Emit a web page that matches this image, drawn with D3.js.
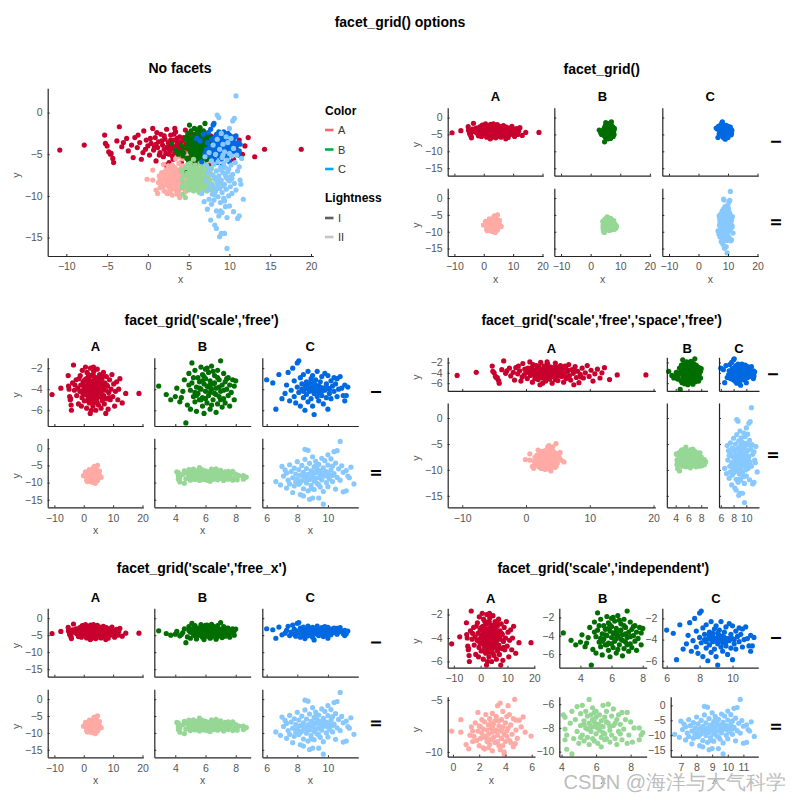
<!DOCTYPE html>
<html><head><meta charset="utf-8">
<script src="https://cdn.jsdelivr.net/npm/d3@7"></script>
<style>body{margin:0;background:#fff} text{font-family:"Liberation Sans",Arial,Helvetica,sans-serif}</style>
</head><body><svg id="c" width="800" height="800"></svg>
<script>
// ---------------- data (x,y) ----------------
const A_I = [[-10.8,-4.5],[-7.8,-3.9],[-5.3,-2.7],[-5.2,-3.7],[-5.0,-4.0],[-4.8,-4.7],[-4.6,-5.0],[-4.3,-5.5],[-4.2,-6.0],[-4.5,-4.9],[-3.5,-1.7],[-3.8,-3.4],[-3.2,-4.1],[-3.0,-3.6],[-2.6,-3.1],[-2.4,-4.6],[-2.0,-3.9],[-1.8,-5.4],[-1.6,-3.0],[-1.3,-4.2],[-1.0,-3.6],[-0.8,-5.6],[-0.6,-4.8],[-0.5,-2.2],[-0.2,-3.3],[0.0,-4.0],[0.2,-5.1],[0.4,-3.7],[0.6,-1.9],[0.7,-4.5],[0.9,-3.0],[1.0,-5.8],[1.2,-4.2],[1.3,-3.5],[1.5,-4.8],[1.6,-2.6],[1.8,-3.9],[1.9,-5.3],[2.0,-4.4],[2.1,-3.2],[2.2,-6.3],[2.3,-2.0],[2.4,-4.1],[2.5,-3.6],[2.6,-5.0],[2.7,-4.6],[2.8,-2.7],[2.9,-3.9],[3.0,-4.3],[3.1,-5.6],[3.2,-3.3],[3.3,-4.8],[3.4,-2.3],[3.5,-4.0],[3.6,-3.7],[3.7,-5.2],[3.8,-4.5],[3.9,-2.9],[4.0,-3.5],[4.1,-6.0],[4.2,-4.2],[4.4,-3.0],[4.5,-4.9],[4.6,-2.1],[4.7,-3.8],[4.9,-4.4],[5.0,-5.5],[5.1,-3.2],[5.3,-4.0],[5.4,-2.6],[5.6,-4.7],[5.7,-3.6],[5.9,-5.8],[6.0,-4.2],[6.2,-3.0],[6.3,-5.1],[6.5,-3.8],[6.7,-2.4],[6.8,-4.6],[7.0,-5.4],[7.2,-3.4],[7.4,-4.1],[7.5,-6.3],[7.7,-2.8],[7.9,-4.9],[8.1,-3.7],[8.3,-5.9],[8.5,-4.3],[8.8,-3.1],[9.0,-5.0],[9.3,-4.0],[9.6,-2.6],[9.9,-4.7],[10.2,-3.5],[10.5,-5.6],[10.8,-4.2],[11.2,-3.3],[11.6,-5.0],[11.9,-4.0],[12.3,-3.0],[13.1,-5.3],[14.3,-4.4],[18.8,-4.4],[0.3,-3.1],[0.8,-4.1],[1.1,-2.4],[1.4,-5.1],[1.7,-3.4],[2.0,-2.8],[2.2,-4.9],[2.5,-4.3],[2.8,-3.3],[3.0,-5.2],[3.2,-2.6],[3.4,-4.5],[3.6,-3.1],[3.9,-4.1],[4.1,-4.7],[4.3,-3.4],[4.6,-5.3],[4.8,-2.9],[5.0,-3.9],[5.2,-4.6],[5.5,-3.3],[5.8,-4.4],[6.1,-2.7],[6.4,-4.9],[6.6,-3.5],[1.0,-3.8],[-0.3,-4.4],[-1.2,-2.7],[7.8,-3.6],[8.6,-4.8],[3.3,-1.9],[2.6,-6.0]];
const A_II = [[-0.1,-8.0],[0.6,-6.9],[0.6,-8.1],[1.0,-9.3],[1.2,-9.7],[1.3,-8.4],[1.4,-7.6],[1.5,-9.0],[1.6,-8.5],[1.7,-7.2],[1.8,-8.9],[1.9,-6.2],[1.9,-8.0],[2.0,-7.5],[2.0,-9.4],[2.1,-8.7],[2.2,-6.9],[2.2,-8.2],[2.3,-7.8],[2.3,-9.6],[2.4,-9.7],[2.4,-7.1],[2.5,-8.5],[2.5,-6.4],[2.6,-7.9],[2.6,-9.0],[2.7,-7.4],[2.7,-8.3],[2.8,-6.8],[2.8,-9.3],[2.9,-7.7],[2.9,-8.8],[3.0,-6.3],[3.0,-8.1],[3.0,-9.9],[3.1,-7.3],[3.1,-8.6],[3.2,-7.0],[3.2,-9.1],[3.3,-7.9],[3.3,-6.6],[3.4,-8.4],[3.4,-5.55],[3.5,-7.5],[3.5,-9.4],[3.6,-5.3],[3.6,-8.0],[3.6,-9.8],[3.7,-6.9],[3.7,-8.7],[3.8,-7.6],[3.8,-6.1],[3.9,-10.0],[3.9,-8.3],[4.0,-7.2],[4.0,-9.0],[4.1,-6.6],[4.1,-8.0],[4.2,-5.55],[4.2,-7.7],[4.3,-6.4],[4.3,-8.9],[4.4,-7.4],[4.5,-8.3],[4.6,-6.8],[4.6,-9.5],[4.7,-4.95],[4.75,-9.2],[4.8,-6.95],[4.8,-7.9],[4.9,-8.7],[5.05,-6.95],[5.2,-7.6],[5.35,-6.63],[5.5,-8.1],[5.95,-8.47],[3.9,-10.2],[2.4,-9.7],[1.5,-8.0],[2.1,-7.6],[2.6,-8.8],[3.2,-8.0],[3.5,-7.0],[2.9,-7.2],[3.7,-7.9],[4.1,-8.5],[2.3,-8.6],[3.0,-7.6],[3.4,-9.0],[2.7,-9.6],[4.4,-9.1],[3.8,-9.4]];
const B_I = [[2.9,-3.7],[3.4,-4.5],[3.7,-5.0],[4.0,-4.7],[4.1,-3.9],[4.3,-5.2],[4.5,-4.2],[4.7,-7.2],[4.6,-3.1],[4.8,-5.5],[4.9,-2.5],[5.0,-4.1],[5.0,-5.9],[5.1,-1.5],[5.1,-3.4],[5.2,-4.7],[5.3,-2.2],[5.3,-5.2],[5.4,-3.8],[5.4,-6.1],[5.5,-2.9],[5.5,-4.4],[5.6,-3.3],[5.6,-5.0],[5.7,-1.9],[5.7,-4.0],[5.8,-2.6],[5.8,-4.8],[5.8,-5.6],[5.9,-3.5],[5.9,-6.3],[6.0,-2.1],[6.0,-4.2],[6.0,-3.0],[6.1,-5.3],[6.1,-3.7],[6.2,-4.6],[6.2,-2.4],[6.3,-5.9],[6.3,-3.2],[6.4,-4.0],[6.4,-1.8],[6.5,-5.0],[6.5,-3.5],[6.6,-4.4],[6.6,-2.7],[6.7,-6.2],[6.7,-3.9],[6.8,-5.4],[6.8,-2.2],[6.9,-4.7],[6.9,-3.1],[7.0,-1.3],[7.0,-4.2],[7.1,-5.7],[7.1,-3.6],[7.2,-2.5],[7.2,-4.9],[7.3,-3.3],[7.3,-5.3],[7.4,-4.0],[7.5,-2.9],[7.5,-4.6],[7.6,-3.6],[7.6,-5.6],[7.7,-4.3],[7.8,-3.1],[7.9,-3.7],[8.0,-3.2],[7.9,-5.0],[5.2,-2.9],[5.6,-3.9],[6.0,-4.9],[6.3,-4.3],[6.5,-2.3],[6.9,-3.8],[5.4,-4.6],[5.9,-2.8],[6.6,-3.4],[7.0,-5.0],[6.2,-3.8],[5.8,-3.2],[6.4,-5.5],[7.4,-3.0],[4.4,-4.8],[4.9,-3.6],[5.3,-4.3],[6.1,-2.0],[6.7,-4.5],[7.2,-4.1],[5.7,-5.0],[6.8,-2.9],[6.3,-3.6]];
const B_II = [[4.1,-6.9],[4.2,-7.1],[4.2,-8.1],[4.3,-8.6],[4.2,-9.0],[4.3,-9.8],[4.6,-10.2],[4.5,-7.6],[4.6,-6.6],[4.7,-8.9],[4.8,-7.3],[4.9,-6.2],[4.9,-8.3],[5.0,-9.3],[5.1,-7.8],[5.1,-6.8],[5.2,-8.6],[5.2,-6.1],[5.3,-7.4],[5.3,-9.1],[5.4,-8.0],[5.4,-6.6],[5.5,-7.0],[5.5,-8.8],[5.6,-5.6],[5.6,-7.6],[5.6,-9.4],[5.7,-8.3],[5.7,-6.9],[5.8,-7.3],[5.8,-8.9],[5.8,-6.3],[5.9,-7.9],[5.9,-9.1],[6.0,-7.1],[6.0,-8.5],[6.0,-6.6],[6.1,-7.7],[6.1,-9.3],[6.2,-8.2],[6.2,-6.9],[6.3,-7.4],[6.3,-8.8],[6.4,-6.1],[6.4,-7.9],[6.5,-8.5],[6.5,-7.1],[6.6,-6.6],[6.6,-8.9],[6.7,-7.6],[6.7,-6.0],[6.8,-8.2],[6.8,-9.2],[6.9,-7.0],[6.9,-8.6],[7.0,-7.8],[7.0,-6.4],[7.1,-8.9],[7.2,-7.3],[7.2,-9.4],[7.3,-6.9],[7.3,-8.3],[7.4,-7.7],[7.5,-9.0],[7.5,-6.7],[7.6,-8.1],[7.7,-7.3],[7.8,-9.3],[7.8,-6.7],[7.9,-8.6],[8.0,-7.5],[8.1,-9.2],[8.2,-8.0],[8.5,-8.0],[8.6,-8.6],[8.7,-8.4],[8.5,-9.0],[5.5,-8.1],[5.9,-7.5],[6.2,-7.8],[6.4,-8.4],[5.7,-7.9],[6.1,-8.0],[6.6,-7.5],[5.3,-7.7],[6.8,-7.9],[6.3,-9.6],[5.1,-8.8],[7.1,-7.6],[5.9,-6.7],[6.5,-9.0],[7.4,-8.5]];
const C_I = [[6.0,-3.1],[6.4,-3.4],[6.6,-5.9],[6.8,-2.6],[7.0,-4.9],[7.2,-4.4],[7.3,-3.6],[7.4,-2.4],[7.5,-5.1],[7.6,-4.1],[7.7,-2.0],[7.8,-3.2],[7.8,-4.7],[7.9,-5.3],[8.0,-3.8],[8.0,-1.5],[8.1,-1.3],[8.1,-4.3],[8.2,-2.9],[8.2,-5.6],[8.3,-3.5],[8.3,-4.0],[8.4,-4.8],[8.4,-2.6],[8.5,-3.9],[8.5,-6.0],[8.6,-3.3],[8.6,-4.5],[8.7,-5.2],[8.7,-2.3],[8.8,-3.7],[8.8,-4.2],[8.9,-3.0],[8.9,-4.9],[9.0,-3.9],[9.0,-5.6],[9.0,-2.7],[9.1,-4.4],[9.1,-3.4],[9.1,-6.4],[9.2,-4.0],[9.2,-3.1],[9.3,-4.7],[9.3,-2.3],[9.4,-3.7],[9.4,-5.1],[9.5,-4.2],[9.5,-3.3],[9.6,-2.8],[9.6,-4.6],[9.7,-3.9],[9.7,-5.4],[9.8,-2.5],[9.8,-4.1],[9.9,-3.5],[9.9,-4.8],[10.0,-2.7],[10.0,-3.9],[10.0,-5.9],[10.1,-4.4],[10.2,-3.2],[10.2,-4.9],[10.3,-3.7],[10.4,-2.9],[10.4,-4.2],[10.5,-3.5],[10.6,-4.7],[10.6,-3.0],[10.7,-4.0],[10.8,-2.8],[10.9,-3.9],[11.0,-4.6],[11.1,-5.1],[11.1,-3.6],[11.2,-4.6],[11.3,-3.8],[8.6,-3.6],[8.9,-3.9],[9.2,-3.6],[9.4,-4.3],[9.0,-4.1],[8.7,-4.0],[9.5,-3.8],[9.3,-4.1],[8.8,-3.4],[9.1,-3.8],[9.6,-4.2],[8.4,-4.2],[9.8,-3.9],[10.1,-4.0]];
const C_II = [[6.6,-9.7],[6.9,-10.7],[7.0,-5.3],[7.1,-8.1],[7.2,-6.3],[7.3,-11.6],[7.3,-7.2],[7.4,-9.3],[7.5,-4.8],[7.5,-10.4],[7.6,-6.8],[7.7,-12.9],[7.7,-8.6],[7.8,-5.8],[7.8,-11.0],[7.9,-7.5],[7.9,-9.8],[8.0,-3.9],[8.0,-8.9],[8.1,-6.2],[8.1,-10.5],[8.2,-13.5],[8.2,-7.8],[8.3,-5.0],[8.3,-9.4],[8.4,-13.9],[8.4,-11.8],[8.4,-7.0],[8.5,-0.3],[8.5,-8.4],[8.5,-3.2],[8.6,-10.1],[8.6,-5.9],[8.7,-0.6],[8.7,-7.6],[8.7,-12.4],[8.8,-4.4],[8.8,-9.1],[8.8,-14.9],[8.9,-6.6],[8.9,-10.8],[9.0,-8.1],[9.0,-2.5],[9.0,-14.5],[9.1,-5.4],[9.1,-9.6],[9.1,-12.0],[9.2,-7.2],[9.2,-3.8],[9.3,-10.3],[9.3,-6.1],[9.4,-8.6],[9.4,-14.5],[9.4,-4.7],[9.5,-11.3],[9.5,-7.5],[9.6,-2.9],[9.6,-9.2],[9.7,-16.3],[9.7,-5.7],[9.7,-12.6],[9.8,-8.0],[9.8,-3.6],[9.9,-10.0],[9.9,-6.8],[10.0,-1.9],[10.0,-4.9],[10.0,-11.2],[10.1,-7.7],[10.1,-8.9],[10.2,-3.1],[10.2,-6.3],[10.3,-9.7],[10.3,-5.2],[10.4,-1.0],[10.4,-7.4],[10.5,-11.9],[10.5,-4.3],[10.6,-0.7],[10.6,-8.5],[10.7,-6.0],[10.8,2.0],[10.8,-9.3],[10.9,-5.1],[11.0,-12.7],[11.0,-7.0],[11.2,-12.4],[11.2,-6.5],[11.3,-8.1],[11.4,-8.6],[11.5,-5.5],[11.7,-10.4],[8.9,-8.3],[9.2,-8.8],[9.5,-6.6],[9.0,-6.9],[8.6,-9.0],[9.8,-7.1],[9.4,-10.6],[8.4,-8.0],[10.0,-8.2],[9.6,-7.8],[8.9,-11.8],[10.3,-7.9],[9.2,-5.1],[8.2,-9.9]];

const colorCats = ["A","B","C"];
const lightCats = ["I","II"];
const pointColors = {"A-I":"#c8002d","A-II":"#ffaaa5","B-I":"#006e00","B-II":"#96d796","C-I":"#0069e1","C-II":"#87c8ff"};
const legendColors = {A:"#f56a6a",B:"#00ad45",C:"#00aaff",I:"#5f5f5f",II:"#c4c4c4"};

// tick labels
const ticksAllX = [-10,-5,0,5,10,15,20];
const ticksFacetX = [-10,0,10,20];
const ticksAllY = [0,-5,-10,-15];
const ticksColX = {A:[-10,0,10,20], B:[4,6,8], C:[6,8,10]};
const ticksRowY = {I:[-2,-4,-6], II:[0,-5,-10,-15]};
const ticksIndX = {"A-I":[-10,0,10,20],"B-I":[4,6,8],"C-I":[6,8,10],"A-II":[0,2,4,6],"B-II":[4,6,8],"C-II":[7,8,9,10,11]};
const ticksIndY = {"A-I":[-2,-4,-6],"B-I":[-2,-4,-6],"C-I":[-2,-4,-6],"A-II":[-5,-10],"B-II":[-6,-8,-10],"C-II":[0,-5,-10,-15]};

// ---------------- drawing ----------------
const dataByKey = {"A-I":A_I,"A-II":A_II,"B-I":B_I,"B-II":B_II,"C-I":C_I,"C-II":C_II};
const series = [];
colorCats.forEach(c => lightCats.forEach(l => series.push({c, l, key:c+"-"+l, pts:dataByKey[c+"-"+l]})));

const svg = d3.select("#c");
const TICK_COL = "#555", AX_COL = "#262626";

function padded(list, i){
  const vals = list.flatMap(s => s.pts.map(p => p[i]));
  const [a,b] = d3.extent(vals); const d = (b-a)*0.05;
  return [a-d, b+d];
}
const span = d => d[1]-d[0];

function text(x, y, s, opt={}){
  const t = svg.append("text").attr("x",x).attr("y",y).text(s)
    .attr("text-anchor", opt.anchor||"middle")
    .attr("font-size", opt.size||14)
    .attr("font-weight", opt.bold?"bold":"normal")
    .attr("fill", opt.fill||"#000");
  if (opt.rotate) t.attr("transform", `rotate(${opt.rotate},${x},${y})`);
  return t;
}

function cell(o){
  const g = svg.append("g");
  const x = d3.scaleLinear().domain(o.xd).range([o.x0,o.x1]);
  const y = d3.scaleLinear().domain(o.yd).range([o.y1,o.y0]);
  o.series.forEach(s => {
    g.append("g").selectAll("circle").data(s.pts).join("circle")
      .attr("cx", d => x(d[0])).attr("cy", d => y(d[1])).attr("r", 2.6)
      .attr("fill", pointColors[s.key]);
  });
  const ax = d3.axisBottom(x).tickValues(o.xt).tickSizeInner(-2).tickSizeOuter(0).tickPadding(7)
    .tickFormat(o.showX ? d3.format("d") : () => "");
  const ay = d3.axisLeft(y).tickValues(o.yt).tickSizeInner(-2).tickSizeOuter(0).tickPadding(5)
    .tickFormat(o.showY ? d3.format("d") : () => "");
  const gx = g.append("g").attr("transform",`translate(0,${o.y1})`).call(ax);
  const gy = g.append("g").attr("transform",`translate(${o.x0},0)`).call(ay);
  [gx,gy].forEach(a => {
    a.select(".domain").attr("stroke",AX_COL).attr("stroke-width",1.2);
    a.selectAll(".tick line").attr("stroke",AX_COL);
    a.selectAll(".tick text").attr("fill",TICK_COL).attr("font-size",10.5)
      .attr("font-family",'"Liberation Sans",Arial,sans-serif');
  });
  if (o.xlab) text((o.x0+o.x1)/2, o.y1+27, "x", {size:10.5, fill:TICK_COL});
  if (o.ylab) text(o.x0-28, (o.y0+o.y1)/2+3, "y", {size:10.5, fill:TICK_COL, rotate:-90});
}

// main title
text(400, 27, "facet_grid() options", {bold:true});

// ---- Panel 1: no facets
const allX = padded(series,0), allY = padded(series,1);
text(180, 73, "No facets", {bold:true});
cell({x0:47.7,x1:313.3,y0:88.3,y1:256,xd:allX,yd:allY,xt:ticksAllX,yt:ticksAllY,
  showX:true,showY:true,series,xlab:true,ylab:true});
// legend
text(325, 115, "Color", {bold:true, size:12, anchor:"start"});
colorCats.forEach((c,i) => {
  const yy = 130 + i*19.5;
  svg.append("line").attr("x1",325).attr("x2",333.5).attr("y1",yy).attr("y2",yy)
    .attr("stroke",legendColors[c]).attr("stroke-width",2.6);
  text(338, yy+4, c, {size:11, anchor:"start", fill:"#333"});
});
text(325, 202, "Lightness", {bold:true, size:12, anchor:"start"});
lightCats.forEach((l,i) => {
  const yy = 218 + i*19;
  svg.append("line").attr("x1",325).attr("x2",333.5).attr("y1",yy).attr("y2",yy)
    .attr("stroke",legendColors[l]).attr("stroke-width",2.6);
  text(338, yy+4, l, {size:11, anchor:"start", fill:"#333"});
});

function grid(p){
  text(p.titleX, p.titleY, p.title, {bold:true});
  colorCats.forEach((c,ci) => {
    const cx = p.colLabelX ? p.colLabelX[ci] : (p.cols[ci][0]+p.cols[ci][1])/2;
    text(cx, p.colLabelY, c, {bold:true, size:13});
  });
  lightCats.forEach((l,ri) => {
    const cols = p.cellCols ? p.cellCols[ri] : p.cols;
    colorCats.forEach((c,ci) => {
      const s = series.filter(d => d.c===c && d.l===l);
      const o = p.spec(c,l,ci,ri);
      cell(Object.assign({x0:cols[ci][0],x1:cols[ci][1],y0:p.rows[ri][0],y1:p.rows[ri][1],series:s,
        ylab: ci===0, xlab: ri===1 && p.xlab!==false}, o));
    });
    text(p.rowLabelX, (p.rows[ri][0]+p.rows[ri][1])/2, l, {bold:true, size:14, rotate:90});
  });
}

const colX = {}, rowY = {};
colorCats.forEach(c => colX[c] = padded(series.filter(s=>s.c===c),0));
lightCats.forEach(l => rowY[l] = padded(series.filter(s=>s.l===l),1));
const colsL = [[47.7,143.3],[154.3,250.7],[262.3,358.3]];
const colsR = [[447.7,543.3],[554.3,650.7],[662.3,758.3]];

// ---- Panel 2: facet_grid()
grid({title:"facet_grid()", titleX:601.7, titleY:74, colLabelY:101, cols:colsR,
  rows:[[107.7,175.7],[188.3,256]], rowLabelX:771,
  spec:(c,l,ci,ri)=>({xd:allX,yd:allY,xt:ticksFacetX,yt:ticksAllY,showX:ri===1,showY:ci===0})});

// ---- Panel 3: scale free
grid({title:"facet_grid('scale','free')", titleX:201.7, titleY:325, colLabelY:351, cols:colsL,
  rows:[[357.7,426],[438.3,507.3]], rowLabelX:371,
  spec:(c,l,ci,ri)=>({xd:colX[c],yd:rowY[l],xt:ticksColX[c],yt:ticksRowY[l],showX:ri===1,showY:ci===0})});

// ---- Panel 4: scale free, space free
(function(){
  const gapX = 11.5, gapY = 12, X0 = 447.7, X1 = 759, Y0 = 357.3, Y1 = 507.3;
  const totW = X1-X0-2*gapX, sumX = d3.sum(colorCats, c => span(colX[c]));
  const cols = []; let cx = X0;
  colorCats.forEach(c => { const w = totW*span(colX[c])/sumX; cols.push([cx,cx+w]); cx += w+gapX; });
  const totH = Y1-Y0-gapY, sumY = d3.sum(lightCats, l => span(rowY[l]));
  const rows = []; let cy = Y0;
  lightCats.forEach(l => { const h = totH*span(rowY[l])/sumY; rows.push([cy,cy+h]); cy += h+gapY; });
  grid({title:"facet_grid('scale','free','space','free')", titleX:601.7, titleY:325, colLabelY:353,
    cols, rows, rowLabelX:768, xlab:false,
    spec:(c,l,ci,ri)=>({xd:colX[c],yd:rowY[l],xt:ticksColX[c],yt:ticksRowY[l],showX:ri===1,showY:ci===0})});
})();

// ---- Panel 5: scale free_x
grid({title:"facet_grid('scale','free_x')", titleX:201.7, titleY:573, colLabelY:602, cols:colsL,
  rows:[[608.3,676.7],[689.3,757.3]], rowLabelX:371,
  spec:(c,l,ci,ri)=>({xd:colX[c],yd:allY,xt:ticksColX[c],yt:ticksAllY,showX:ri===1,showY:ci===0})});

// ---- Panel 6: independent
grid({title:"facet_grid('scale','independent')", titleX:603.3, titleY:573, colLabelY:603,
  cols:[[447.7,535],[559.3,646.7],[670.7,758.3]], colLabelX:[490.7,602.7,716],
  cellCols:[[[447.7,535],[559.3,646.7],[662.3,758.3]],[[447.7,535],[559.3,646.7],[670.7,758.3]]],
  rows:[[608.3,667.7],[696.7,756.7]], rowLabelX:771,
  spec:(c,l,ci,ri)=>{ const s = series.filter(d=>d.c===c&&d.l===l);
    return {xd:padded(s,0),yd:padded(s,1),xt:ticksIndX[c+"-"+l],yt:ticksIndY[c+"-"+l],showX:true,showY:true}; }});

// watermark
svg.append("text").attr("x",786).attr("y",789).attr("text-anchor","end")
  .attr("font-size",20).attr("font-family",'"Noto Sans CJK SC","Noto Sans",sans-serif')
  .attr("fill","#bdbdbd").attr("stroke","#ffffff").attr("stroke-width",0.6).attr("paint-order","stroke")
  .text("CSDN @海洋与大气科学");
</script></body></html>
